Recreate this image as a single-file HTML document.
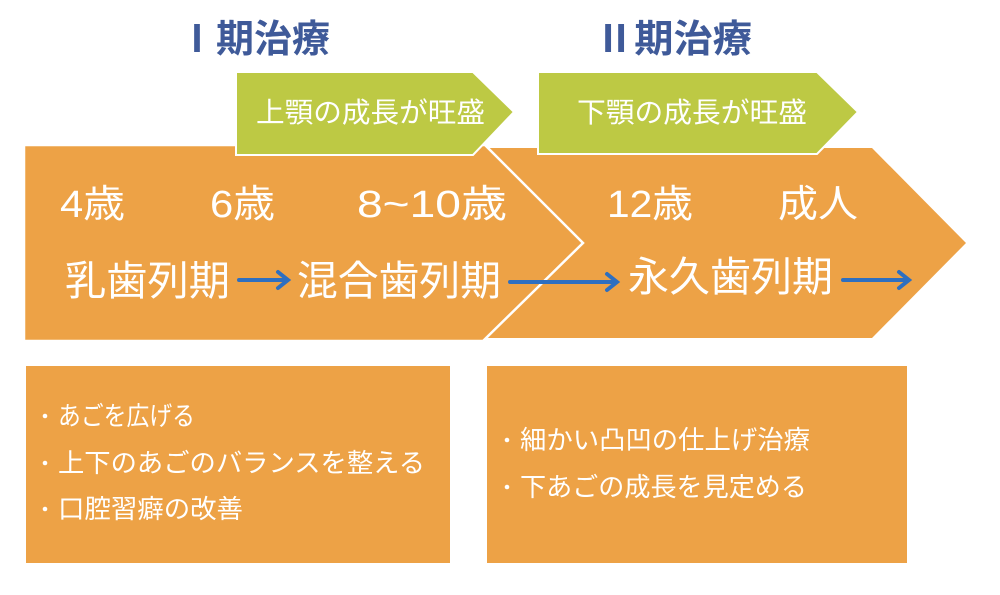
<!DOCTYPE html>
<html><head><meta charset="utf-8"><style>
html,body{margin:0;padding:0;background:#fff;}
svg{display:block;}
text{font-family:"Liberation Sans","Noto Sans CJK JP",sans-serif;fill:#fff;}
</style></head><body>
<svg width="1000" height="595" viewBox="0 0 1000 595" xmlns="http://www.w3.org/2000/svg">
<g font-size="38" font-weight="bold">
<text x="178" y="52" style="fill:#3F5A99;font-family:'Noto Sans CJK JP',sans-serif" textLength="152" lengthAdjust="spacingAndGlyphs">Ⅰ期治療</text>
<text x="595" y="52" style="fill:#3F5A99;font-family:'Noto Sans CJK JP',sans-serif" textLength="157" lengthAdjust="spacingAndGlyphs">Ⅱ期治療</text>
</g>
<polygon points="470,148 872,148 966,243 872,338 470,338" fill="#EDA246"/>
<polygon points="24,145 485,145 583,243 483,341 24,341" fill="#EDA246" stroke="#fff" stroke-width="2.5"/>
<rect x="20" y="141" width="5" height="204" fill="#fff"/>
<polygon points="236,72 473,72 514,112 473,155 236,155" fill="#BDC944" stroke="#fff" stroke-width="2"/>
<polygon points="538,72 817,72 858,112 817,154 538,154" fill="#BDC944" stroke="#fff" stroke-width="2"/>
<g font-size="28">
<text x="256" y="122" textLength="229" lengthAdjust="spacingAndGlyphs">上顎の成長が旺盛</text>
<text x="577" y="122" textLength="230" lengthAdjust="spacingAndGlyphs">下顎の成長が旺盛</text>
</g>
<g font-size="38">
<text x="60" y="217" textLength="65" lengthAdjust="spacingAndGlyphs">4歳</text>
<text x="210" y="217" textLength="65" lengthAdjust="spacingAndGlyphs">6歳</text>
<text x="357" y="217" textLength="150" lengthAdjust="spacingAndGlyphs">8~10歳</text>
<text x="607" y="217" textLength="86" lengthAdjust="spacingAndGlyphs">12歳</text>
<text x="778" y="217" textLength="80" lengthAdjust="spacingAndGlyphs">成人</text>
</g>
<g font-size="41">
<text x="65" y="295" textLength="165" lengthAdjust="spacingAndGlyphs">乳歯列期</text>
<text x="297" y="295" textLength="204" lengthAdjust="spacingAndGlyphs">混合歯列期</text>
<text x="628" y="291" textLength="205" lengthAdjust="spacingAndGlyphs">永久歯列期</text>
</g>
<g stroke="#2E6FC0" stroke-width="4" fill="none" stroke-linecap="round">
<line x1="239" y1="280" x2="287" y2="280"/><polyline points="278,272 288,280 278,288"/>
<line x1="510" y1="282" x2="616" y2="282"/><polyline points="607,274 617,282 607,290"/>
<line x1="843" y1="280" x2="908" y2="280"/><polyline points="899,272 909,280 899,288"/>
</g>
<rect x="26" y="366" width="424" height="197" fill="#EDA246"/>
<rect x="487" y="366" width="420" height="197" fill="#EDA246"/>
<g fill="#fff">
<circle cx="45" cy="416" r="2.3"/><circle cx="45" cy="463" r="2.3"/><circle cx="45" cy="509" r="2.3"/>
<circle cx="507" cy="440" r="2.3"/><circle cx="507" cy="487" r="2.3"/>
</g>
<g font-size="26">
<text x="58" y="425" textLength="137" lengthAdjust="spacingAndGlyphs">あごを広げる</text>
<text x="58" y="472" textLength="367" lengthAdjust="spacingAndGlyphs">上下のあごのバランスを整える</text>
<text x="58" y="518" textLength="185" lengthAdjust="spacingAndGlyphs">口腔習癖の改善</text>
<text x="520" y="449" textLength="290" lengthAdjust="spacingAndGlyphs">細かい凸凹の仕上げ治療</text>
<text x="520" y="496" textLength="287" lengthAdjust="spacingAndGlyphs">下あごの成長を見定める</text>
</g>
</svg>
</body></html>
